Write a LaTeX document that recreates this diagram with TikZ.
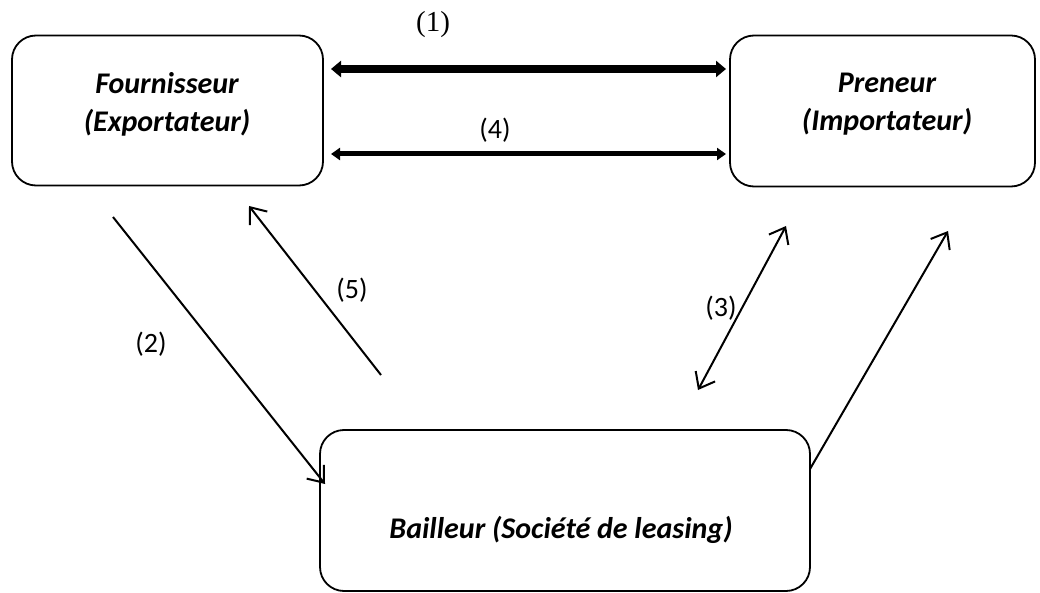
\documentclass[tikz,border=0pt]{standalone}
\usepackage{fontspec}
\setmainfont{Carlito}
\newfontfamily\serifnum{Liberation Serif}
\usetikzlibrary{arrows.meta}
\begin{document}
\begin{tikzpicture}[x=1pt,y=-1pt,
  party/.style={draw, line width=1.8pt, rounded corners=24pt, inner sep=0pt},
  partytext/.style={align=center, inner sep=0pt, font=\fontsize{30}{38}\selectfont\bfseries\itshape},
  num/.style={font=\fontsize{28}{32}\selectfont},
  flow/.style={line width=2pt, -{Straight Barb[length=14pt,width=22pt,line width=2pt]}},
  flowboth/.style={line width=2pt, {Straight Barb[length=14pt,width=22pt,line width=2pt]}-{Straight Barb[length=14pt,width=22pt,line width=2pt]}},
]
\useasboundingbox (0,0) rectangle (1040,593);

% the three parties
\node[party, minimum width=311pt, minimum height=150pt] (F) at (167.5,110.5) {};
\node[party, minimum width=305pt, minimum height=151pt] (P) at (882.5,111) {};
\node[party, minimum width=490pt, minimum height=161pt] (B) at (565,510.5) {};

\node[partytext] (Ft) at (167,104) {Fournisseur\\(Exportateur)};
\node[partytext] (Pt) at (887,104) {Preneur\\(Importateur)};
\node[partytext] (Bt) at (561,530) {Bailleur (Société de leasing)};

% end points of the connectors
\coordinate (a1) at (331,69);   \coordinate (b1) at (726,69);
\coordinate (a4) at (331,154);  \coordinate (b4) at (726,154);
\coordinate (a2) at (113,217);  \coordinate (b2) at (325,484);
\coordinate (a5) at (381,375);  \coordinate (b5) at (249,206);
\coordinate (a3) at (698,390);  \coordinate (b3) at (786,226);
\coordinate (a6) at (810,469);  \coordinate (b6) at (948,231);

% exchanges between supplier and lessee
\draw[line width=7.5pt, {Triangle[length=10pt,width=16pt]}-{Triangle[length=10pt,width=16pt]}] (a1) -- (b1);
\draw[line width=5pt, {Triangle[length=9pt,width=12pt]}-{Triangle[length=9pt,width=12pt]}] (a4) -- (b4);

% flows through the leasing company
\draw[flow] (a2) -- (b2);
\draw[flow] (a5) -- (b5);
\draw[flowboth] (a3) -- (b3);
\draw[flow] (a6) -- (b6);

% labels
\node[font=\serifnum\fontsize{29}{32}\selectfont] (l1) at (433,25) {(1)};
\node[num] (l4) at (495,130) {(4)};
\node[num] (l2) at (151,344) {(2)};
\node[num] (l5) at (352,290) {(5)};
\node[num] (l3) at (721,308) {(3)};
\end{tikzpicture}
\end{document}
